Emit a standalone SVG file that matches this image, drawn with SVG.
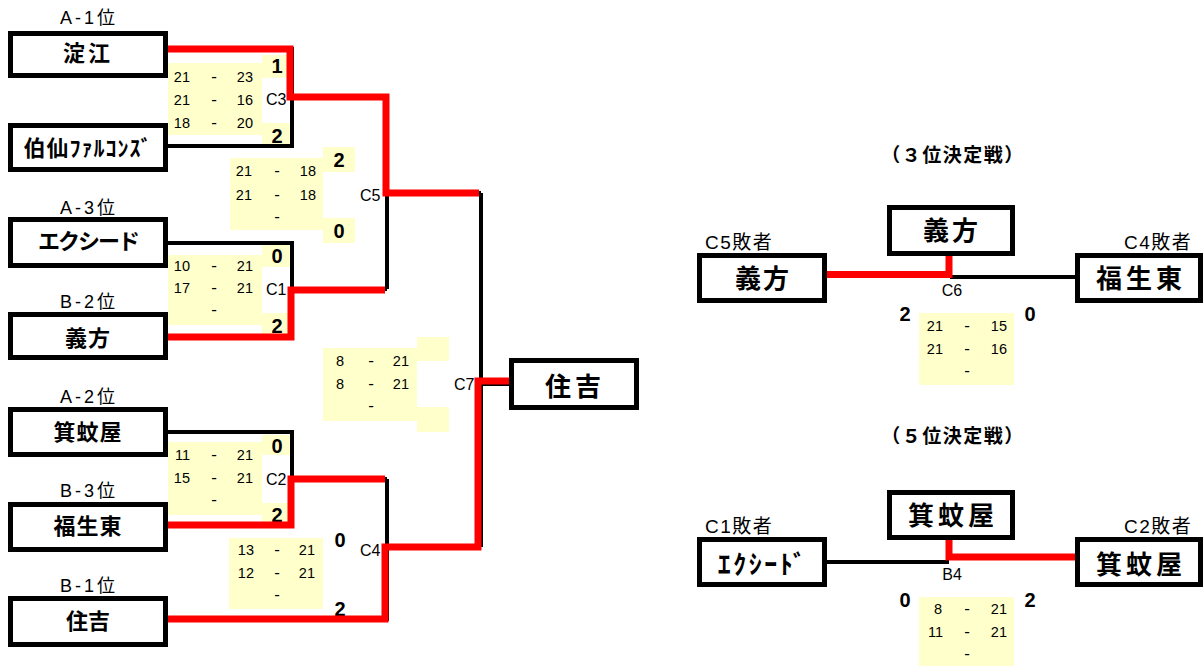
<svg xmlns="http://www.w3.org/2000/svg" width="1203" height="666" viewBox="0 0 1203 666">
<style>
.box{fill:#fff;stroke:#000;stroke-width:5}
.yl{fill:#FFFFCC}
.blk{fill:none;stroke:#000;stroke-width:4}
.red{fill:none;stroke:#FF0000;stroke-width:7}
.name{font-family:"Noto Sans CJK JP","Liberation Sans",sans-serif;font-weight:bold;font-size:22px;text-anchor:middle;fill:#000}
.big{font-size:26px}
.lbl{font-family:"Liberation Sans","Noto Sans CJK JP",sans-serif;font-size:18px;letter-spacing:3px;text-anchor:middle;fill:#000}
.lbs{font-family:"Liberation Sans","Noto Sans CJK JP",sans-serif;font-size:19px;letter-spacing:1.5px;fill:#000}
.ttl{font-family:"Noto Sans CJK JP",sans-serif;font-weight:bold;font-size:19px;letter-spacing:1.5px;text-anchor:middle;fill:#000}
.cl{font-family:"Liberation Sans",sans-serif;font-size:16px;fill:#000}
.clm{text-anchor:middle}
.sc{font-family:"Liberation Sans","Noto Sans CJK JP",sans-serif;font-size:14.5px;fill:#000}
.r{text-anchor:end}
.d{text-anchor:middle;font-size:17px}
.win{font-family:"Liberation Sans",sans-serif;font-weight:bold;font-size:20px;text-anchor:middle;fill:#000}
</style>
<rect width="1203" height="666" fill="#fff"/>

<!-- score blocks -->
<g id="score-c3">
<rect class="yl" x="168" y="63" width="94" height="72"/>
<rect class="yl" x="262" y="55" width="28" height="23"/>
<rect class="yl" x="262" y="123" width="28" height="23"/>
<text class="win" x="277" y="73">1</text>
<text class="win" x="277" y="143">2</text>
<g class="sc">
<text class="r" x="190" y="82">21</text><text class="d" x="214" y="82">-</text><text class="r" x="253" y="82">23</text>
<text class="r" x="190" y="105">21</text><text class="d" x="214" y="105">-</text><text class="r" x="253" y="105">16</text>
<text class="r" x="190" y="128">18</text><text class="d" x="214" y="128">-</text><text class="r" x="253" y="128">20</text>
</g>
<text class="cl" x="266" y="105">C3</text>
</g>

<g id="score-c1">
<rect class="yl" x="168" y="255" width="94" height="70"/>
<rect class="yl" x="262" y="245" width="28" height="22"/>
<rect class="yl" x="262" y="313" width="28" height="22"/>
<text class="win" x="277" y="263">0</text>
<text class="win" x="277" y="333">2</text>
<g class="sc">
<text class="r" x="190" y="271">10</text><text class="d" x="214" y="271">-</text><text class="r" x="253" y="271">21</text>
<text class="r" x="190" y="293">17</text><text class="d" x="214" y="293">-</text><text class="r" x="253" y="293">21</text>
<text class="d" x="214" y="315">-</text>
</g>
<text class="cl" x="266" y="295">C1</text>
</g>

<g id="score-c2">
<rect class="yl" x="168" y="442" width="94" height="73"/>
<rect class="yl" x="262" y="435" width="28" height="20"/>
<rect class="yl" x="262" y="503" width="28" height="22"/>
<text class="win" x="277" y="453">0</text>
<text class="win" x="277" y="522">2</text>
<g class="sc">
<text class="r" x="190" y="460">11</text><text class="d" x="214" y="460">-</text><text class="r" x="253" y="460">21</text>
<text class="r" x="190" y="483">15</text><text class="d" x="214" y="483">-</text><text class="r" x="253" y="483">21</text>
<text class="d" x="214" y="505">-</text>
</g>
<text class="cl" x="266" y="485">C2</text>
</g>

<g id="score-c5">
<rect class="yl" x="230" y="158" width="93" height="72"/>
<rect class="yl" x="323" y="147" width="32" height="25"/>
<rect class="yl" x="323" y="218" width="32" height="25"/>
<text class="win" x="339" y="167">2</text>
<text class="win" x="339" y="238">0</text>
<g class="sc">
<text class="r" x="252" y="176">21</text><text class="d" x="277" y="176">-</text><text class="r" x="316" y="176">18</text>
<text class="r" x="252" y="200">21</text><text class="d" x="277" y="200">-</text><text class="r" x="316" y="200">18</text>
<text class="d" x="277" y="222">-</text>
</g>
<text class="cl" x="360" y="201">C5</text>
</g>

<g id="score-c4">
<rect class="yl" x="229" y="538" width="94" height="71"/>
<text class="win" x="340" y="547">0</text>
<text class="win" x="340" y="616">2</text>
<g class="sc">
<text class="r" x="254" y="555">13</text><text class="d" x="277" y="555">-</text><text class="r" x="315" y="555">21</text>
<text class="r" x="254" y="578">12</text><text class="d" x="277" y="578">-</text><text class="r" x="315" y="578">21</text>
<text class="d" x="277" y="600">-</text>
</g>
<text class="cl" x="360" y="556">C4</text>
</g>

<g id="score-c7">
<rect class="yl" x="323" y="348" width="94" height="73"/>
<rect class="yl" x="417" y="337" width="32" height="24"/>
<rect class="yl" x="417" y="407" width="32" height="25"/>
<g class="sc">
<text class="r" x="344" y="366">8</text><text class="d" x="371" y="366">-</text><text class="r" x="409" y="366">21</text>
<text class="r" x="344" y="389">8</text><text class="d" x="371" y="389">-</text><text class="r" x="409" y="389">21</text>
<text class="d" x="371" y="411">-</text>
</g>
<text class="cl" x="454" y="390">C7</text>
</g>

<g id="score-c6">
<rect class="yl" x="919" y="313" width="95" height="72"/>
<text class="win" x="905" y="321">2</text>
<text class="win" x="1030" y="321">0</text>
<g class="sc">
<text class="r" x="943" y="331">21</text><text class="d" x="967" y="331">-</text><text class="r" x="1007" y="331">15</text>
<text class="r" x="943" y="354">21</text><text class="d" x="967" y="354">-</text><text class="r" x="1007" y="354">16</text>
<text class="d" x="967" y="376">-</text>
</g>
<text class="cl clm" x="952" y="296">C6</text>
</g>

<g id="score-b4">
<rect class="yl" x="919" y="597" width="95" height="69"/>
<text class="win" x="905" y="607">0</text>
<text class="win" x="1030" y="607">2</text>
<g class="sc">
<text class="r" x="942" y="614">8</text><text class="d" x="967" y="614">-</text><text class="r" x="1007" y="614">21</text>
<text class="r" x="943" y="637">11</text><text class="d" x="967" y="637">-</text><text class="r" x="1007" y="637">21</text>
<text class="d" x="967" y="659">-</text>
</g>
<text class="cl clm" x="952" y="580">B4</text>
</g>

<!-- connectors -->
<g id="connectors">
<path class="blk" d="M166,49 H292 V146 H166 M292,97 H387"/>
<path class="blk" d="M166,243 H292 V337 H166 M292,289 H387"/>
<path class="blk" d="M387,97 V289 M387,193 H481"/>
<path class="blk" d="M166,432 H292 V525 H166 M292,479 H387"/>
<path class="blk" d="M387,479 V619 H166 M387,547 H481"/>
<path class="blk" d="M481,193 V547 M481,384 H510"/>
<path class="red" d="M166,49 H290 V97 H386 V193 H479"/>
<path class="red" d="M166,337 H291 V290 H385"/>
<path class="red" d="M166,525 H291 V479 H385"/>
<path class="red" d="M166,619 H385 V547 H478 V381 H510"/>
<path class="blk" d="M950,277 H1075"/>
<path class="red" d="M827,274.5 H949 V256"/>
<path class="blk" d="M827,562 H949"/>
<path class="red" d="M949,540 V557 H1075"/>
</g>

<!-- bracket nodes -->
<g id="team-yodoe">
<text class="lbl" x="89" y="24">A-1位</text>
<rect class="box" x="10.5" y="33.5" width="155" height="42"/>
<text class="name" x="88" y="61" style="letter-spacing:3px">淀江</text>
</g>
<g id="team-hakusen">
<rect class="box" x="10.5" y="125.5" width="155" height="44"/>
<text class="name" x="88" y="156" style="letter-spacing:1px">伯仙ﾌｧﾙｺﾝｽﾞ</text>
</g>
<g id="team-exceed">
<text class="lbl" x="89" y="214">A-3位</text>
<rect class="box" x="10.5" y="219.5" width="155" height="46"/>
<text class="name" x="88" y="249" style="letter-spacing:-2px">エクシード</text>
</g>
<g id="team-gihou">
<text class="lbl" x="89" y="308">B-2位</text>
<rect class="box" x="10.5" y="314.5" width="155" height="43"/>
<text class="name" x="88" y="346" style="letter-spacing:1px">義方</text>
</g>
<g id="team-minoya">
<text class="lbl" x="89" y="403">A-2位</text>
<rect class="box" x="10.5" y="409.5" width="155" height="45"/>
<text class="name" x="88" y="440" style="letter-spacing:1px">箕蚊屋</text>
</g>
<g id="team-fukuikuhigashi">
<text class="lbl" x="89" y="497">B-3位</text>
<rect class="box" x="10.5" y="504.5" width="155" height="45"/>
<text class="name" x="88" y="534" style="letter-spacing:1px">福生東</text>
</g>
<g id="team-sumiyoshi">
<text class="lbl" x="89" y="592">B-1位</text>
<rect class="box" x="10.5" y="598.5" width="155" height="46"/>
<text class="name" x="88" y="629">住吉</text>
</g>
<g id="champion">
<rect class="box" x="511.5" y="360.5" width="125" height="47"/>
<text class="name big" x="575" y="396" style="letter-spacing:4px">住吉</text>
</g>

<!-- 3rd place -->
<text class="ttl" x="953" y="162">（３位決定戦）</text>
<g id="third-winner">
<rect class="box" x="889.5" y="207.5" width="123" height="46"/>
<text class="name big" x="952" y="240" style="letter-spacing:3px">義方</text>
</g>
<g id="third-left">
<text class="lbs" x="705" y="249">C5敗者</text>
<rect class="box" x="699.5" y="255.5" width="125" height="45"/>
<text class="name big" x="763" y="288" style="letter-spacing:2px">義方</text>
</g>
<g id="third-right">
<text class="lbs" x="1124" y="249">C4敗者</text>
<rect class="box" x="1077.5" y="255.5" width="123" height="45"/>
<text class="name big" x="1141" y="288" style="letter-spacing:4px">福生東</text>
</g>

<!-- 5th place -->
<text class="ttl" x="953" y="443">（５位決定戦）</text>
<g id="fifth-winner">
<rect class="box" x="889.5" y="492.5" width="123" height="45"/>
<text class="name big" x="953" y="525" style="letter-spacing:4px">箕蚊屋</text>
</g>
<g id="fifth-left">
<text class="lbs" x="705" y="533">C1敗者</text>
<rect class="box" x="699.5" y="539.5" width="125" height="45"/>
<text class="name big" x="763" y="574" style="letter-spacing:2.5px">ｴｸｼｰﾄﾞ</text>
</g>
<g id="fifth-right">
<text class="lbs" x="1124" y="533">C2敗者</text>
<rect class="box" x="1077.5" y="539.5" width="123" height="45"/>
<text class="name big" x="1141" y="574" style="letter-spacing:4px">箕蚊屋</text>
</g>
</svg>
